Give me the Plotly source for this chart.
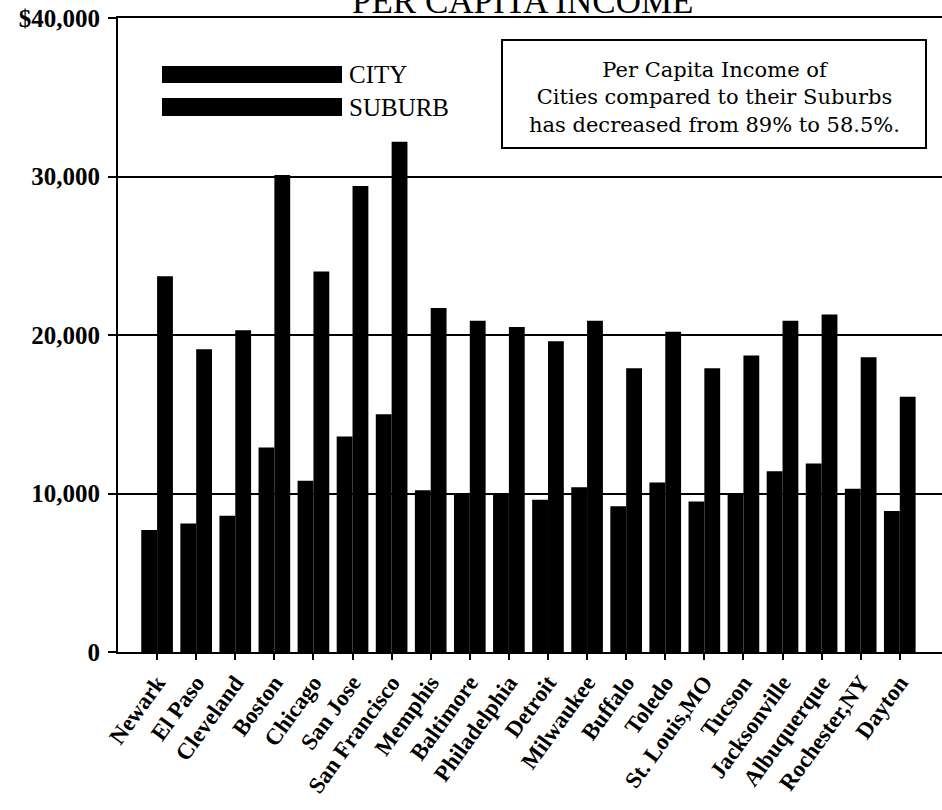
import plotly.graph_objects as go

# Per capita income, cities vs. their suburbs (dollars)
cities = ["Newark", "El Paso", "Cleveland", "Boston", "Chicago", "San Jose",
          "San Francisco", "Memphis", "Baltimore", "Philadelphia", "Detroit",
          "Milwaukee", "Buffalo", "Toledo", "St. Louis,MO", "Tucson",
          "Jacksonville", "Albuquerque", "Rochester,NY", "Dayton"]
city_income = [7700, 8100, 8600, 12900, 10800, 13600, 15000, 10200, 9900, 9900,
               9600, 10400, 9200, 10700, 9500, 10000, 11400, 11900, 10300, 8900]
suburb_income = [23700, 19100, 20300, 30100, 24000, 29400, 32200, 21700, 20900,
                 20500, 19600, 20900, 17900, 20200, 17900, 18700, 20900, 21300,
                 18600, 16100]
series_names = ["CITY", "SUBURB"]
y_tickvals = [0, 10000, 20000, 30000, 40000]
y_ticktext = ["0", "10,000", "20,000", "30,000", "$40,000"]
title_text = "PER CAPITA INCOME"
note_lines = ["Per Capita Income of",
              "Cities compared to their Suburbs",
              "has decreased from 89% to 58.5%."]

W, H = 942, 810
ML, MR, MT, MB = 118, 0, 18, 158
PW, PH = W - ML - MR, H - MT - MB
SERIF = "Liberation Serif, Times New Roman, serif"
WIDE_SERIF = "DejaVu Serif, serif"


def px_x(x):
    return (x - ML) / PW


def px_y(y):
    return (H - MB - y) / PH


fig = go.Figure()
for name, vals in zip(series_names, [city_income, suburb_income]):
    fig.add_trace(go.Bar(x=cities, y=vals, name=name,
                         marker=dict(color="black", line=dict(width=0)),
                         showlegend=False))

fig.update_layout(
    width=W, height=H,
    margin=dict(l=ML, r=MR, t=MT, b=MB, pad=0),
    paper_bgcolor="white", plot_bgcolor="white",
    barmode="group", bargap=0.19, bargroupgap=0.0,
    font=dict(family=SERIF, color="black"),
    xaxis=dict(
        type="category", range=[-1.0, 20.08],
        showline=True, linecolor="black", linewidth=2, mirror=True,
        ticks="outside", ticklen=6, tickwidth=1.5, tickcolor="black",
        tickangle=-54, showgrid=False,
        tickfont=dict(family=SERIF, size=23, weight="bold", color="black"),
    ),
    yaxis=dict(
        range=[0, 40000], tickvals=y_tickvals, ticktext=y_ticktext,
        showline=True, linecolor="black", linewidth=2,
        ticks="outside", ticklen=8, tickwidth=1.5, tickcolor="black",
        ticklabelstandoff=3,
        showgrid=True, gridcolor="black", gridwidth=1.5, zeroline=False,
        tickfont=dict(family=SERIF, size=25, weight="bold", color="black"),
    ),
)

# Title sitting on top of the frame
fig.add_annotation(text=title_text, xref="paper", yref="paper",
                   x=px_x(522), y=1, xanchor="center", yanchor="bottom",
                   yshift=-5, showarrow=False,
                   font=dict(family=SERIF, size=35, color="black"))

# Legend: long black swatches with labels
legend_rows = [(66, 83), (98, 116)]
for name, (y0, y1) in zip(series_names, legend_rows):
    fig.add_shape(type="rect", xref="paper", yref="paper",
                  x0=px_x(162), x1=px_x(342), y0=px_y(y1), y1=px_y(y0),
                  fillcolor="black", line=dict(width=0))
    fig.add_annotation(text=name, xref="paper", yref="paper",
                       x=px_x(347), y=px_y((y0 + y1) / 2),
                       xanchor="left", yanchor="middle", showarrow=False,
                       font=dict(family=SERIF, size=25, color="black"))

# Note box
fig.add_shape(type="rect", xref="paper", yref="paper",
              x0=px_x(502), x1=px_x(926), y0=px_y(148), y1=px_y(40),
              fillcolor="white", line=dict(color="black", width=2))
fig.add_annotation(text="<br>".join(note_lines), xref="paper", yref="paper",
                   x=px_x(714), y=px_y(97), xanchor="center",
                   yanchor="middle", align="center", showarrow=False,
                   font=dict(family=WIDE_SERIF, size=21, color="black"))

fig.write_html("out.html")
